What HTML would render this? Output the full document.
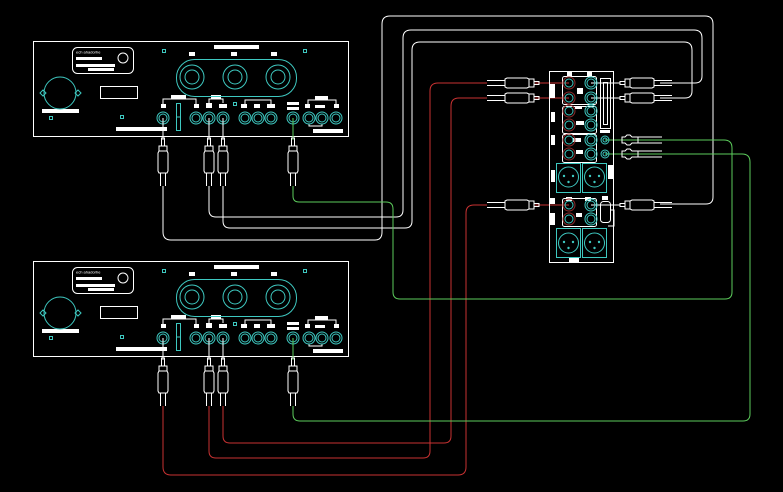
<!DOCTYPE html>
<html><head><meta charset="utf-8"><style>
html,body{margin:0;padding:0;background:#000;}
svg{display:block;}
</style></head><body>
<svg width="783" height="492" viewBox="0 0 783 492" xmlns="http://www.w3.org/2000/svg">
<defs>
<g id="vplug" fill="none" stroke="#fff" stroke-width="1">
  <rect x="-1.5" y="0" width="3" height="8"/>
  <rect x="-4" y="8" width="8" height="5"/>
  <path d="M-4,13 L-5,15 L-5,33 L-4,35 L4,35 L5,33 L5,15 L4,13"/>
  <line x1="-2.5" y1="35" x2="-2.5" y2="48"/>
  <line x1="2.5" y1="35" x2="2.5" y2="48"/>
</g>
<g id="hplugL" fill="none" stroke="#fff" stroke-width="1">
  <line x1="0" y1="-2.5" x2="18" y2="-2.5"/>
  <line x1="0" y1="2.5" x2="18" y2="2.5"/>
  <path d="M18,-4 L20,-5 L40,-5 L42,-4 L42,4 L40,5 L20,5 L18,4 Z"/>
  <rect x="42" y="-4" width="5" height="8"/>
  <rect x="47" y="-1.5" width="5" height="3"/>
</g>
<g id="panel" fill="none" stroke-width="1">
  <rect x="33.5" y="41.5" width="315" height="95" stroke="#fff"/>
  <rect x="72.5" y="47.5" width="61" height="26" rx="5" stroke="#fff"/>
  <text x="76" y="53.5" fill="#fff" stroke="none" font-family="Liberation Sans, sans-serif" font-size="4">ech ahadorhe</text>
  <g fill="#fff" stroke="none">
    <rect x="76" y="57" width="26" height="3"/>
    <rect x="76" y="64" width="39" height="3"/>
    <rect x="88" y="68" width="26" height="3"/>
    <rect x="214" y="45" width="45" height="4"/>
    <rect x="189" y="52" width="6" height="4"/>
    <rect x="231" y="52" width="6" height="4"/>
    <rect x="271" y="52" width="6" height="4"/>
    <rect x="42" y="109" width="37" height="4"/>
    <rect x="116" y="127" width="51" height="4"/>
    <rect x="313" y="129" width="30" height="4"/>
    <rect x="171" y="95" width="15" height="4"/>
    <rect x="161" y="104" width="5" height="4"/>
    <rect x="194" y="104" width="5" height="4"/>
    <rect x="211" y="95" width="10" height="4"/>
    <rect x="206" y="103" width="6" height="5"/>
    <rect x="219" y="104" width="8" height="4"/>
    <rect x="241" y="104" width="6" height="4"/>
    <rect x="254" y="104" width="6" height="4"/>
    <rect x="267" y="104" width="8" height="4"/>
    <rect x="287" y="102" width="12" height="3"/>
    <rect x="287" y="107" width="12" height="3"/>
    <rect x="315" y="96" width="13" height="4"/>
    <rect x="305" y="104" width="5" height="4"/>
    <rect x="315" y="105" width="10" height="3"/>
    <rect x="334" y="104" width="5" height="4"/>
  </g>
  <circle cx="123" cy="58" r="5" stroke="#fff"/>
  <rect x="100.5" y="86.5" width="37" height="12" stroke="#fff"/>
  <path d="M163,104 V99 H196 V104 M209,103 V99 H223 V103 M245,104 V100 H271 V104 M308,104 V100 H336 V104 M309,124 V126 H322 V124" stroke="#fff"/>
  <g stroke="#3ec8c0">
    <rect x="176.5" y="59.5" width="120" height="37" rx="18"/>
    <circle cx="192" cy="77" r="12"/><circle cx="192" cy="77" r="7"/>
    <circle cx="235" cy="77" r="12"/><circle cx="235" cy="77" r="7"/>
    <circle cx="278" cy="77" r="12"/><circle cx="278" cy="77" r="7"/>
    <circle cx="60" cy="93" r="16"/>
    <path d="M43,90 l3,3 l-3,3 l-3,-3 Z M78,90 l3,3 l-3,3 l-3,-3 Z"/>
    <rect x="162.5" y="49.5" width="3" height="3"/>
    <rect x="303.5" y="49.5" width="3" height="3"/>
    <rect x="49.5" y="116.5" width="3" height="3"/>
    <rect x="120.5" y="115.5" width="3" height="3"/>
    <rect x="233.5" y="102.5" width="3" height="3"/>
    <rect x="176.5" y="103.5" width="4" height="27"/>
    <line x1="176" y1="117" x2="181" y2="117"/>
    <circle cx="163" cy="118" r="6"/><circle cx="163" cy="118" r="4"/>
    <circle cx="196" cy="118" r="6"/><circle cx="196" cy="118" r="4"/>
    <circle cx="209" cy="118" r="6"/><circle cx="209" cy="118" r="4"/>
    <circle cx="223" cy="118" r="6"/><circle cx="223" cy="118" r="4"/>
    <circle cx="245" cy="118" r="6"/><circle cx="245" cy="118" r="4"/>
    <circle cx="258" cy="118" r="6"/><circle cx="258" cy="118" r="4"/>
    <circle cx="271" cy="118" r="6"/><circle cx="271" cy="118" r="4"/>
    <circle cx="293" cy="118" r="6"/><circle cx="293" cy="118" r="4"/>
    <circle cx="309" cy="118" r="6"/><circle cx="309" cy="118" r="4"/>
    <circle cx="322" cy="118" r="6"/><circle cx="322" cy="118" r="4"/>
    <circle cx="336" cy="118" r="6"/><circle cx="336" cy="118" r="4"/>
  </g>
  <path d="M163,118 V140 M209,118 V140 M223,118 V140" stroke="#fff"/>
  <path d="M293,118 V140" stroke="#5ccc5c"/>
  <use href="#vplug" x="163" y="138"/>
  <use href="#vplug" x="209" y="138"/>
  <use href="#vplug" x="223" y="138"/>
  <use href="#vplug" x="293" y="138"/>
</g>
</defs>

<!-- panels -->
<use href="#panel"/>
<use href="#panel" y="220"/>

<!-- white cables from top panel -->
<g fill="none" stroke="#fff" stroke-width="1">
  <path d="M163,186 V232 Q163,240 171,240 H375 Q382,240 382,232 V24 Q382,16 390,16 H705 Q713,16 713,24 V197 Q713,204 706,204 H660"/>
  <path d="M209,186 V210 Q209,217 216,217 H396 Q403,217 403,210 V38 Q403,30 411,30 H694 Q702,30 702,38 V76 Q702,83 695,83 H660"/>
  <path d="M223,186 V221 Q223,228 230,228 H405 Q412,228 412,221 V50 Q412,42 420,42 H684 Q692,42 692,50 V91 Q692,98 685,98 H660"/>
  <line x1="591" y1="83" x2="620" y2="83"/>
  <line x1="591" y1="98" x2="620" y2="98"/>
  <line x1="591" y1="205" x2="620" y2="205"/>
</g>
<use href="#hplugL" transform="translate(672,83) scale(-1,1)"/>
<use href="#hplugL" transform="translate(672,98) scale(-1,1)"/>
<use href="#hplugL" transform="translate(672,205) scale(-1,1)"/>

<!-- red cables from bottom panel -->
<g fill="none" stroke="#c83232" stroke-width="1">
  <path d="M163,406 V467 Q163,475 171,475 H458 Q466,475 466,467 V213 Q466,205 474,205 H487"/>
  <path d="M209,406 V451 Q209,458 216,458 H423 Q430,458 430,451 V91 Q430,83 438,83 H487"/>
  <path d="M223,406 V436 Q223,443 230,443 H444 Q451,443 451,436 V106 Q451,98 459,98 H487"/>
  <line x1="535" y1="83" x2="569" y2="83"/>
  <line x1="535" y1="98" x2="569" y2="98"/>
  <line x1="535" y1="205" x2="569" y2="205"/>
</g>
<use href="#hplugL" x="487" y="83"/>
<use href="#hplugL" x="487" y="98"/>
<use href="#hplugL" x="487" y="205"/>

<!-- green cables -->
<g fill="none" stroke="#5ccc5c" stroke-width="1">
  <path d="M293,186 V196 Q293,202 299,202 H386 Q393,202 393,209 V292 Q393,299 400,299 H725 Q732,299 732,292 V148 Q732,140 724,140 H605"/>
  <path d="M293,406 V414 Q293,421 300,421 H743 Q750,421 750,414 V162 Q750,154 742,154 H605"/>
</g>
<g fill="none" stroke="#fff" stroke-width="1">
  <path d="M622,137 h3 l2,-2 h3 l2,2 h6 v6 h-6 l-2,2 h-3 l-2,-2 h-3 Z"/>
  <path d="M622,151 h3 l2,-2 h3 l2,2 h6 v6 h-6 l-2,2 h-3 l-2,-2 h-3 Z"/>
  <path d="M638,137 H662 M638,143 H662 M638,151 H662 M638,157 H662"/>
</g>

<!-- mixer -->
<g fill="none" stroke-width="1">
  <rect x="549.5" y="71.5" width="64" height="191" stroke="#fff"/>
  <g fill="#fff">
    <rect x="567" y="72" width="5" height="5"/><rect x="587" y="72" width="5" height="5"/>
    <rect x="550" y="84" width="5" height="14"/><rect x="577" y="88" width="6" height="6"/>
    <rect x="551" y="112" width="4" height="10"/><rect x="575" y="106" width="7" height="3"/>
    <rect x="576" y="121" width="8" height="4"/><rect x="551" y="135" width="4" height="10"/>
    <rect x="573" y="138" width="8" height="4"/><rect x="576" y="150" width="7" height="4"/>
    <rect x="551" y="170" width="4" height="12"/><rect x="608" y="165" width="5" height="14"/>
    <rect x="550" y="198" width="5" height="6"/><rect x="566" y="197" width="6" height="4"/>
    <rect x="585" y="197" width="6" height="4"/><rect x="550" y="213" width="5" height="12"/>
    <rect x="576" y="213" width="6" height="4"/><rect x="569" y="258" width="10" height="5"/>
    <rect x="600" y="130" width="10" height="3"/><rect x="602" y="196" width="6" height="4"/>
  </g>
  <rect x="600.5" y="78.5" width="10" height="50" stroke="#fff"/>
  <rect x="603.5" y="82.5" width="4" height="42" stroke="#fff"/>
  <rect x="600.5" y="201.5" width="10" height="21" rx="3" stroke="#fff"/>
  <path d="M610,210 H614 V226 H608" stroke="#fff"/>
  <g stroke="#fff">
    <rect x="562.5" y="76.5" width="34" height="28" rx="2"/>
    <rect x="562.5" y="106.5" width="34" height="27" rx="2"/>
    <rect x="562.5" y="134.5" width="34" height="28" rx="2"/>
    <rect x="562.5" y="198.5" width="34" height="28" rx="2"/>
  </g>
  <g stroke="#8a2a2a">
    <circle cx="569" cy="83" r="6"/><circle cx="569" cy="98" r="6"/>
    <circle cx="569" cy="111" r="6"/><circle cx="569" cy="125" r="6"/>
    <circle cx="569" cy="140" r="6"/><circle cx="569" cy="154" r="6"/>
    <circle cx="569" cy="205" r="6"/><circle cx="569" cy="219" r="6"/>
  </g>
  <g stroke="#3ec8c0">
    <circle cx="569" cy="83" r="4"/><circle cx="569" cy="98" r="4"/>
    <circle cx="569" cy="111" r="4"/><circle cx="569" cy="125" r="4"/>
    <circle cx="569" cy="140" r="4"/><circle cx="569" cy="154" r="4"/>
    <circle cx="569" cy="205" r="4"/><circle cx="569" cy="219" r="4"/>
    <circle cx="591" cy="83" r="6"/><circle cx="591" cy="83" r="4"/>
    <circle cx="591" cy="98" r="6"/><circle cx="591" cy="98" r="4"/>
    <circle cx="591" cy="111" r="6"/><circle cx="591" cy="111" r="4"/>
    <circle cx="591" cy="125" r="6"/><circle cx="591" cy="125" r="4"/>
    <circle cx="591" cy="140" r="6"/><circle cx="591" cy="140" r="4"/>
    <circle cx="591" cy="154" r="6"/><circle cx="591" cy="154" r="4"/>
    <circle cx="591" cy="205" r="6"/><circle cx="591" cy="205" r="4"/>
    <circle cx="591" cy="219" r="6"/><circle cx="591" cy="219" r="4"/>
    <circle cx="605" cy="140" r="4"/><circle cx="605" cy="140" r="2"/>
    <circle cx="605" cy="154" r="4"/><circle cx="605" cy="154" r="2"/>
    <rect x="556.5" y="163.5" width="24" height="29"/>
    <rect x="582.5" y="163.5" width="24" height="29"/>
    <rect x="556.5" y="228.5" width="24" height="29"/>
    <rect x="582.5" y="228.5" width="24" height="29"/>
    <circle cx="568.5" cy="177" r="10"/><circle cx="594.5" cy="177" r="10"/>
    <circle cx="568.5" cy="243" r="10"/><circle cx="594.5" cy="243" r="10"/>
  </g>
  <g fill="#3ec8c0">
    <circle cx="564" cy="176" r="1.2"/><circle cx="573" cy="176" r="1.2"/><circle cx="568.5" cy="182" r="1.2"/>
    <circle cx="590" cy="176" r="1.2"/><circle cx="599" cy="176" r="1.2"/><circle cx="594.5" cy="182" r="1.2"/>
    <circle cx="564" cy="242" r="1.2"/><circle cx="573" cy="242" r="1.2"/><circle cx="568.5" cy="248" r="1.2"/>
    <circle cx="590" cy="242" r="1.2"/><circle cx="599" cy="242" r="1.2"/><circle cx="594.5" cy="248" r="1.2"/>
  </g>
</g>
</svg>
</body></html>
